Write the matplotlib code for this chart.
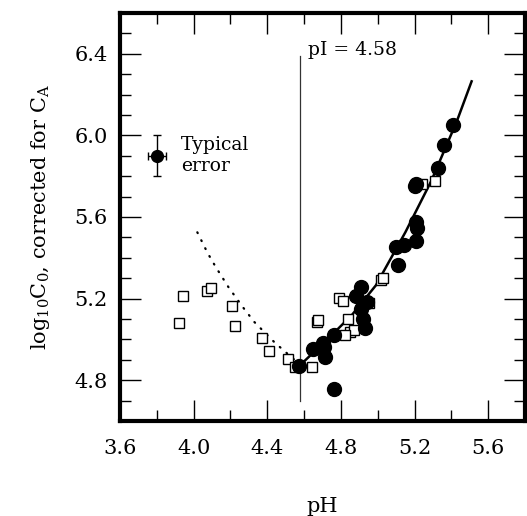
import matplotlib
matplotlib.use('Agg')
import matplotlib.pyplot as plt
from matplotlib.ticker import MultipleLocator, FormatStrFormatter

plt.rcParams['font.family'] = ['DejaVu Serif']
plt.rcParams['mathtext.fontset'] = 'dejavuserif'

# open squares
sq_ph = [3.92, 3.94, 4.07, 4.095, 4.21, 4.225, 4.37, 4.41, 4.51, 4.55, 4.645,
         4.67, 4.675, 4.79, 4.81, 4.84, 4.85, 4.87, 4.82, 4.95, 5.02, 5.03,
         5.24, 5.31]
sq_c = [5.08, 5.215, 5.235, 5.25, 5.165, 5.065, 5.005, 4.945, 4.905, 4.865, 4.865,
        5.085, 5.095, 5.205, 5.19, 5.10, 5.035, 5.045, 5.02, 5.18, 5.29, 5.30,
        5.76, 5.775]

# filled circles
fc_ph = [4.575, 4.65, 4.70, 4.71, 4.715, 4.76, 4.76, 4.88, 4.91, 4.94, 4.91,
         4.92, 4.93, 5.11, 5.10, 5.145, 5.21, 5.215, 5.21, 5.21, 5.205, 5.33,
         5.36, 5.41]
fc_c = [4.87, 4.955, 4.98, 4.965, 4.915, 5.02, 4.757, 5.215, 5.255, 5.185, 5.15,
        5.10, 5.055, 5.365, 5.455, 5.465, 5.48, 5.545, 5.575, 5.76, 5.75, 5.84,
        5.955, 6.05]

# fitted curves
fit_ph = [4.58, 4.76, 4.86, 4.99, 5.07, 5.15, 5.29, 5.43, 5.51]
fit_c = [4.875, 5.03, 5.12, 5.265, 5.395, 5.525, 5.775, 6.07, 6.265]
dot_ph = [4.02, 4.075, 4.12, 4.19, 4.27, 4.33, 4.44, 4.56]
dot_c = [5.525, 5.425, 5.355, 5.255, 5.155, 5.085, 4.985, 4.89]

pI = 4.58
err_x, err_y = 3.80, 5.90
err_dx, err_dy = 0.05, 0.10

fig = plt.figure(figsize=(5.27, 5.16), dpi=100)
ax = fig.add_axes([120 / 527, 1 - 421 / 516, 405 / 527, 408 / 516])
ax.set_xlim(3.6, 5.8)
ax.set_ylim(4.6, 6.6)

ax.plot(fit_ph, fit_c, color='black', lw=1.8, zorder=3)
ax.plot(dot_ph, dot_c, color='black', lw=1.6, ls=(0, (0.4, 3.6)),
        dash_capstyle='round', zorder=3)
ax.plot([pI, pI], [4.70, 6.39], color='#333333', lw=0.9, zorder=2)

ax.plot(sq_ph, sq_c, 's', ms=7, mfc='white', mec='black', mew=1.0,
        ls='none', zorder=4)
ax.plot(fc_ph, fc_c, 'o', ms=10, color='black', ls='none', zorder=5)

ax.errorbar(err_x, err_y, xerr=err_dx, yerr=err_dy, fmt='o', ms=8.5,
            color='black', capsize=3, elinewidth=1, capthick=1)
ax.text(3.93, 5.90, 'Typical\nerror', fontsize=13.5, ha='left', va='center',
        linespacing=1.2)
ax.text(4.62, 6.42, 'pI = 4.58', fontsize=13.5, ha='left', va='center')

ax.xaxis.set_major_locator(MultipleLocator(0.4))
ax.xaxis.set_minor_locator(MultipleLocator(0.2))
ax.yaxis.set_major_locator(MultipleLocator(0.4))
ax.yaxis.set_minor_locator(MultipleLocator(0.1))
ax.xaxis.set_major_formatter(FormatStrFormatter('%.1f'))
ax.yaxis.set_major_formatter(FormatStrFormatter('%.1f'))
ax.tick_params(which='both', direction='in', top=True, right=True,
               labelsize=15)
ax.tick_params(which='major', length=15, width=1.0)
ax.tick_params(which='minor', length=8, width=1.0)
ax.tick_params(axis='x', which='major', pad=13)
ax.tick_params(axis='y', which='major', pad=9)
for s in ax.spines.values():
    s.set_linewidth(3)

ax.set_xlabel('pH', fontsize=15, labelpad=28)
ax.set_ylabel(r'$\mathrm{log_{10}C_0}$, corrected for $\mathrm{C_A}$',
              fontsize=15, labelpad=16)

fig.savefig('out.png', dpi=100)
